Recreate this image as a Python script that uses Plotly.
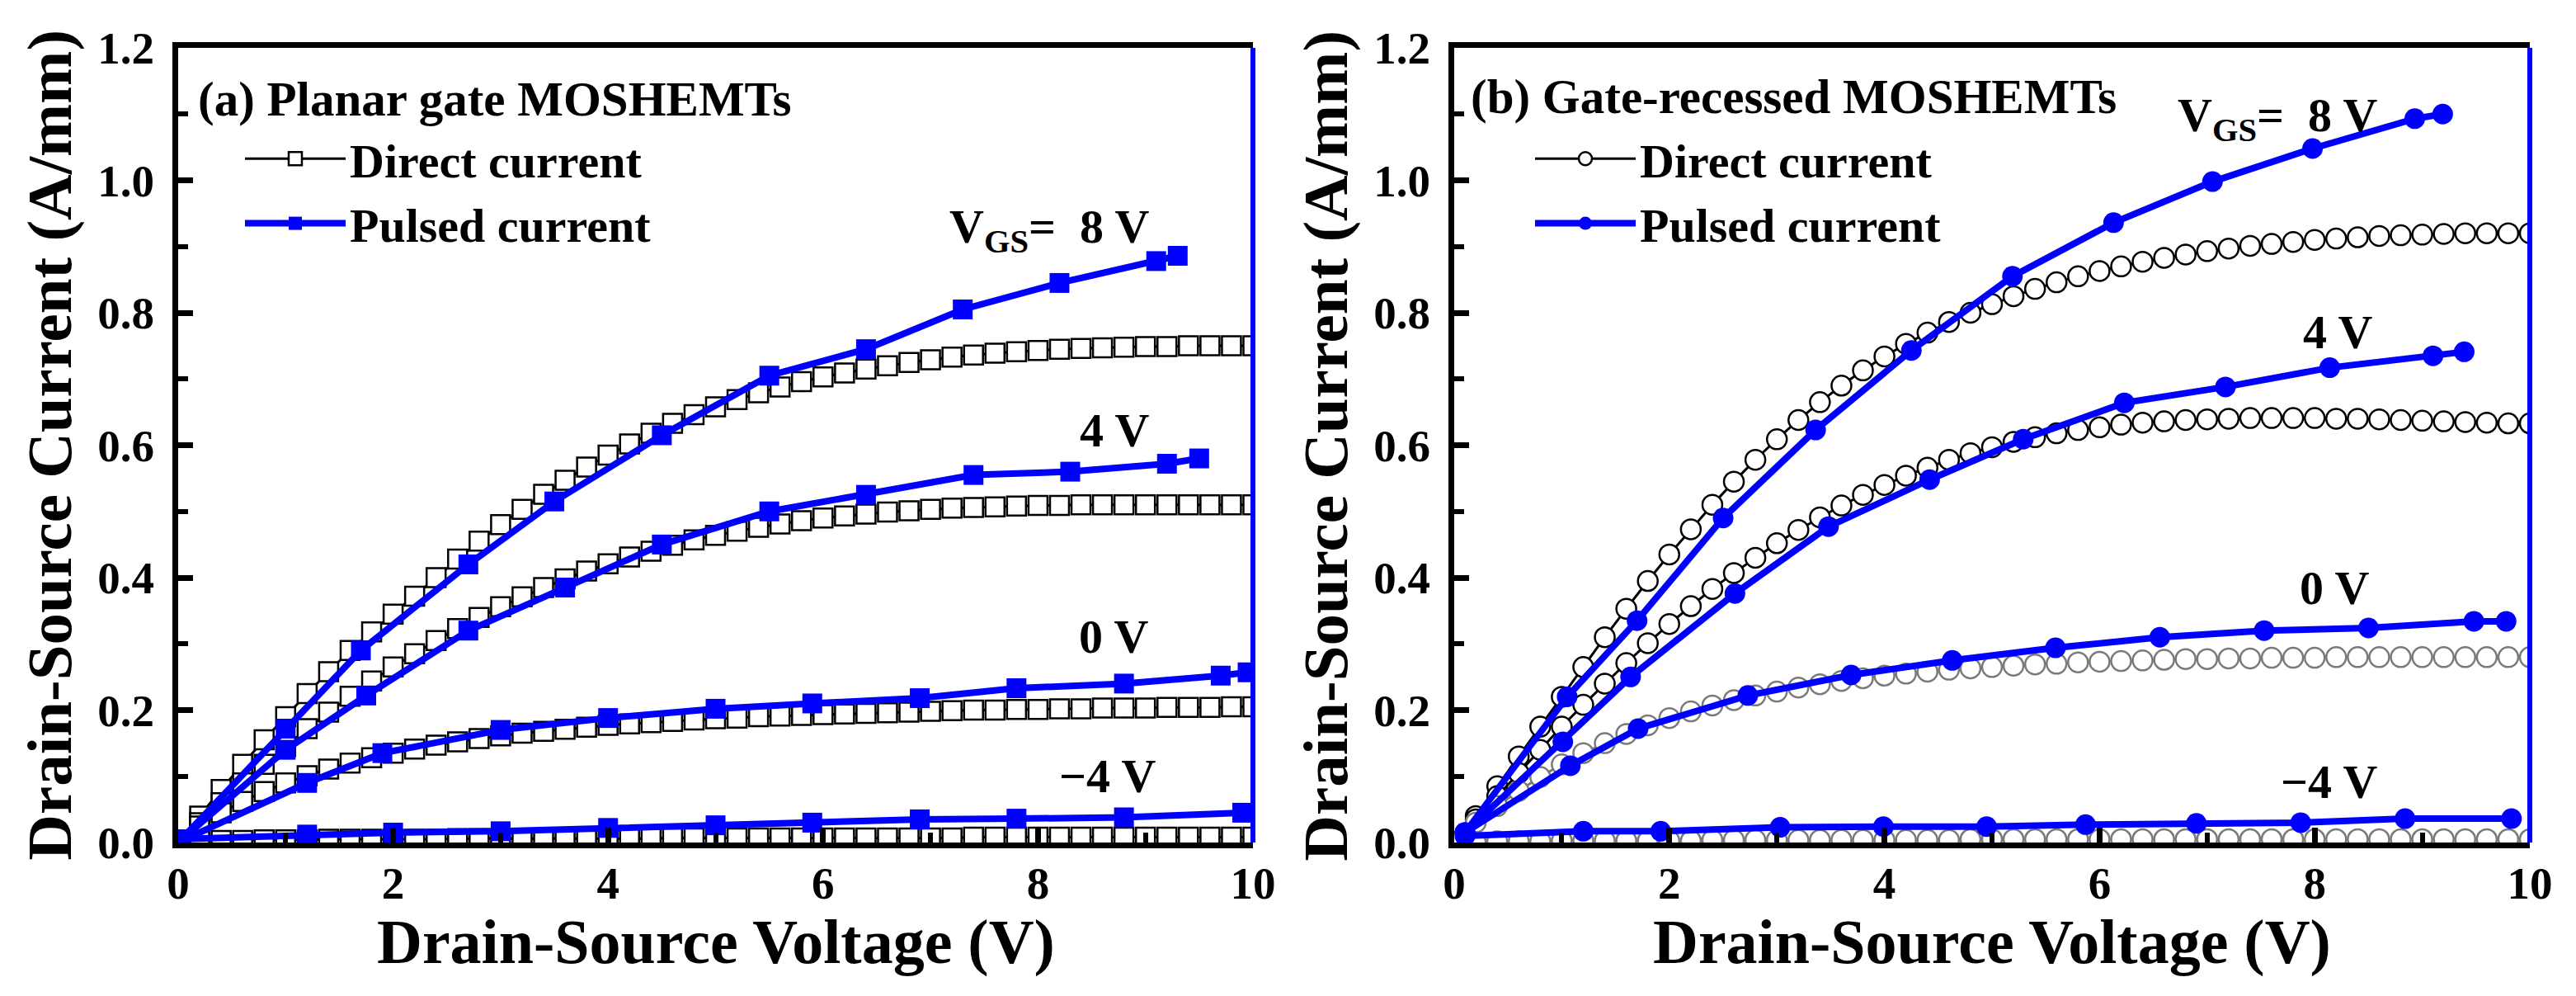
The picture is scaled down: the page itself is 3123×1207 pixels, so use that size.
import plotly.graph_objects as go

FONT = "Liberation Serif"

# ---------------- data ----------------
vds_dc = [round(0.2 * i, 1) for i in range(51)]  # 0.0 ... 10.0 V, 0.2 V step

# (a) Planar gate - direct current
a_dc_8 = [0.000, 0.040, 0.080, 0.118, 0.155, 0.190, 0.225, 0.258, 0.290, 0.318,
          0.345, 0.372, 0.400, 0.428, 0.455, 0.480, 0.503, 0.526, 0.547, 0.567,
          0.585, 0.602, 0.618, 0.633, 0.646, 0.658, 0.669, 0.679, 0.688, 0.696,
          0.703, 0.709, 0.715, 0.720, 0.725, 0.729, 0.733, 0.736, 0.739, 0.741,
          0.743, 0.745, 0.746, 0.747, 0.748, 0.749, 0.749, 0.750, 0.750, 0.750, 0.750]
a_dc_4 = [0.000, 0.030, 0.060, 0.090, 0.118, 0.145, 0.172, 0.197, 0.221, 0.244,
          0.265, 0.285, 0.305, 0.323, 0.340, 0.356, 0.371, 0.385, 0.398, 0.410,
          0.421, 0.431, 0.440, 0.449, 0.457, 0.464, 0.470, 0.476, 0.481, 0.486,
          0.490, 0.493, 0.496, 0.499, 0.501, 0.503, 0.505, 0.506, 0.507, 0.508,
          0.509, 0.509, 0.510, 0.510, 0.510, 0.510, 0.510, 0.510, 0.510, 0.510, 0.510]
a_dc_0 = [0.000, 0.025, 0.045, 0.062, 0.077, 0.090, 0.101, 0.111, 0.120, 0.128,
          0.135, 0.141, 0.147, 0.152, 0.157, 0.161, 0.165, 0.168, 0.171, 0.174,
          0.177, 0.179, 0.181, 0.183, 0.185, 0.187, 0.188, 0.190, 0.191, 0.192,
          0.193, 0.194, 0.195, 0.196, 0.197, 0.198, 0.199, 0.200, 0.200, 0.201,
          0.201, 0.202, 0.202, 0.203, 0.203, 0.203, 0.204, 0.204, 0.204, 0.205, 0.205]
a_dc_m4 = [0.000, 0.002, 0.003, 0.003, 0.004, 0.004, 0.004, 0.005, 0.005, 0.005,
           0.005, 0.005, 0.005, 0.006, 0.006, 0.006, 0.006, 0.006, 0.006, 0.006,
           0.006, 0.006, 0.006, 0.007, 0.007, 0.007, 0.007, 0.007, 0.007, 0.007,
           0.007, 0.007, 0.007, 0.007, 0.007, 0.007, 0.007, 0.008, 0.008, 0.008,
           0.008, 0.008, 0.008, 0.008, 0.008, 0.008, 0.008, 0.008, 0.008, 0.008, 0.008]

# (a) Planar gate - pulsed current
a_p8_v = [0.0, 1.0, 1.7, 2.7, 3.5, 4.5, 5.5, 6.4, 7.3, 8.2, 9.1, 9.3]
a_p8_i = [0.0, 0.172, 0.290, 0.420, 0.515, 0.615, 0.705, 0.745, 0.805, 0.845, 0.878, 0.886]
a_p4_v = [0.0, 1.0, 1.75, 2.7, 3.6, 4.5, 5.5, 6.4, 7.4, 8.3, 9.2, 9.5]
a_p4_i = [0.0, 0.140, 0.222, 0.320, 0.385, 0.450, 0.500, 0.525, 0.555, 0.560, 0.572, 0.580]
a_p0_v = [0.0, 1.2, 1.9, 3.0, 4.0, 5.0, 5.9, 6.9, 7.8, 8.8, 9.7, 9.95]
a_p0_i = [0.0, 0.090, 0.135, 0.170, 0.188, 0.202, 0.210, 0.218, 0.233, 0.240, 0.252, 0.257]
a_pm4_v = [0.0, 1.2, 2.0, 3.0, 4.0, 5.0, 5.9, 6.9, 7.8, 8.8, 9.9]
a_pm4_i = [0.005, 0.012, 0.015, 0.017, 0.022, 0.026, 0.030, 0.035, 0.036, 0.038, 0.045]

# (b) Gate-recessed - direct current
b_dc_8 = [0.000, 0.040, 0.085, 0.130, 0.175, 0.220, 0.265, 0.310, 0.353, 0.395,
          0.435, 0.473, 0.510, 0.545, 0.578, 0.609, 0.638, 0.665, 0.690, 0.713,
          0.734, 0.753, 0.770, 0.786, 0.800, 0.813, 0.825, 0.836, 0.846, 0.855,
          0.863, 0.870, 0.877, 0.883, 0.888, 0.893, 0.897, 0.901, 0.904, 0.907,
          0.910, 0.912, 0.914, 0.916, 0.917, 0.918, 0.919, 0.920, 0.920, 0.920, 0.920]
b_dc_4 = [0.000, 0.035, 0.070, 0.105, 0.140, 0.175, 0.208, 0.240, 0.271, 0.301,
          0.330, 0.357, 0.383, 0.407, 0.430, 0.452, 0.472, 0.491, 0.509, 0.525,
          0.540, 0.554, 0.566, 0.578, 0.588, 0.597, 0.605, 0.612, 0.618, 0.623,
          0.627, 0.631, 0.634, 0.636, 0.638, 0.639, 0.640, 0.641, 0.641, 0.641,
          0.641, 0.640, 0.640, 0.639, 0.638, 0.637, 0.636, 0.635, 0.634, 0.633, 0.633]
b_dc_0 = [0.000, 0.030, 0.055, 0.078, 0.099, 0.118, 0.135, 0.150, 0.164, 0.177,
          0.188, 0.198, 0.207, 0.215, 0.222, 0.228, 0.234, 0.239, 0.244, 0.248,
          0.252, 0.255, 0.258, 0.261, 0.263, 0.265, 0.267, 0.269, 0.270, 0.272,
          0.273, 0.274, 0.275, 0.276, 0.277, 0.277, 0.278, 0.278, 0.279, 0.279,
          0.279, 0.280, 0.280, 0.280, 0.280, 0.280, 0.280, 0.280, 0.280, 0.280, 0.280]
b_dc_m4 = [0.000, 0.001, 0.002, 0.002, 0.002, 0.003, 0.003, 0.003, 0.003, 0.003,
           0.003, 0.003, 0.004, 0.004, 0.004, 0.004, 0.004, 0.004, 0.004, 0.004,
           0.004, 0.004, 0.004, 0.004, 0.005, 0.005, 0.005, 0.005, 0.005, 0.005,
           0.005, 0.005, 0.005, 0.005, 0.005, 0.005, 0.005, 0.005, 0.005, 0.005,
           0.005, 0.005, 0.005, 0.005, 0.005, 0.005, 0.005, 0.005, 0.005, 0.005, 0.005]

# (b) Gate-recessed - pulsed current
b_p8_v = [0.1, 1.05, 1.7, 2.5, 3.36, 4.25, 5.19, 6.13, 7.05, 7.98, 8.93, 9.19]
b_p8_i = [0.015, 0.220, 0.335, 0.490, 0.623, 0.743, 0.855, 0.936, 0.998, 1.048, 1.093, 1.100]
b_p4_v = [0.1, 1.01, 1.64, 2.61, 3.48, 4.42, 5.29, 6.23, 7.17, 8.14, 9.1, 9.39]
b_p4_i = [0.015, 0.152, 0.250, 0.376, 0.477, 0.548, 0.609, 0.664, 0.688, 0.717, 0.735, 0.741]
b_p0_v = [0.1, 1.08, 1.71, 2.73, 3.69, 4.63, 5.59, 6.56, 7.53, 8.5, 9.48, 9.78]
b_p0_i = [0.015, 0.116, 0.172, 0.222, 0.253, 0.275, 0.294, 0.310, 0.320, 0.324, 0.334, 0.334]
b_pm4_v = [0.1, 1.2, 1.92, 3.03, 3.99, 4.95, 5.87, 6.9, 7.87, 8.84, 9.83]
b_pm4_i = [0.010, 0.017, 0.017, 0.023, 0.024, 0.024, 0.027, 0.029, 0.030, 0.036, 0.036]

x_ticks = [0, 2, 4, 6, 8, 10]
y_ticks = [0.0, 0.2, 0.4, 0.6, 0.8, 1.0, 1.2]
y_tick_text = ["0.0", "0.2", "0.4", "0.6", "0.8", "1.0", "1.2"]

BLUE = "#0000ff"
GRAY = "#7a7a7a"

fig = go.Figure()

def dc_trace(y, symbol, color, xa, ya, size, name=None, legend="legend", show=False):
    return go.Scatter(
        x=vds_dc, y=y, mode="lines+markers", xaxis=xa, yaxis=ya,
        line=dict(color=color, width=3),
        marker=dict(symbol=symbol, size=size, color="white", line=dict(color=color, width=2.5)),
        name=name, showlegend=show, legend=legend, legendgroup="dc")

def p_trace(x, y, symbol, xa, ya, size, name=None, legend="legend", show=False):
    return go.Scatter(
        x=x, y=y, mode="lines+markers", xaxis=xa, yaxis=ya,
        line=dict(color=BLUE, width=8),
        marker=dict(symbol=symbol, size=size, color=BLUE, line=dict(width=0)),
        name=name, showlegend=show, legend=legend, legendgroup="pulsed")

# panel (a)
fig.add_trace(dc_trace(a_dc_8, "square", "black", "x", "y", 23, "Direct current", "legend", True))
fig.add_trace(dc_trace(a_dc_4, "square", "black", "x", "y", 23))
fig.add_trace(dc_trace(a_dc_0, "square", "black", "x", "y", 23))
fig.add_trace(dc_trace(a_dc_m4, "square", "black", "x", "y", 23))
fig.add_trace(p_trace(a_p8_v, a_p8_i, "square", "x", "y", 24, "Pulsed current", "legend", True))
fig.add_trace(p_trace(a_p4_v, a_p4_i, "square", "x", "y", 24))
fig.add_trace(p_trace(a_p0_v, a_p0_i, "square", "x", "y", 24))
fig.add_trace(p_trace(a_pm4_v, a_pm4_i, "square", "x", "y", 24))

# panel (b)
fig.add_trace(dc_trace(b_dc_8, "circle", "black", "x2", "y2", 24, "Direct current", "legend2", True))
fig.add_trace(dc_trace(b_dc_4, "circle", "black", "x2", "y2", 24))
fig.add_trace(dc_trace(b_dc_0, "circle", GRAY, "x2", "y2", 24))
fig.add_trace(dc_trace(b_dc_m4, "circle", GRAY, "x2", "y2", 24))
fig.add_trace(p_trace(b_p8_v, b_p8_i, "circle", "x2", "y2", 25, "Pulsed current", "legend2", True))
fig.add_trace(p_trace(b_p4_v, b_p4_i, "circle", "x2", "y2", 25))
fig.add_trace(p_trace(b_p0_v, b_p0_i, "circle", "x2", "y2", 25))
fig.add_trace(p_trace(b_pm4_v, b_pm4_i, "circle", "x2", "y2", 25))

# page coordinates (the html body adds an 8 px offset)
OFF = 8
W, H = 3123 - 2 * OFF, 1207 - 2 * OFF

def px(s):
    return (s - OFF) / W

def py(s):
    return 1 - (s - OFF) / H

TOP, BOT = 58, 1021
L1, R1 = 216, 1519
L2, R2 = 1763, 3067
ydom = [py(BOT), py(TOP)]
xdom1 = [px(L1), px(R1)]
xdom2 = [px(L2), px(R2)]

tickfont = dict(family=FONT, size=55, color="black", weight="bold")

def xaxis(dom, anchor):
    return dict(domain=dom, anchor=anchor, range=[0, 10], tickvals=x_ticks,
                ticks="inside", ticklen=18, tickwidth=7, tickcolor="black",
                minor=dict(dtick=1, ticks="inside", ticklen=12, tickwidth=6, tickcolor="black"),
                showline=True, linewidth=7, linecolor="black", mirror=True,
                showgrid=False, zeroline=False, tickfont=tickfont,
                ticklabelstandoff=-5, automargin=False)

def yaxis(dom, anchor):
    return dict(domain=dom, anchor=anchor, range=[0, 1.2], tickvals=y_ticks, ticktext=y_tick_text,
                ticks="inside", ticklen=18, tickwidth=7, tickcolor="black",
                minor=dict(dtick=0.1, ticks="inside", ticklen=12, tickwidth=6, tickcolor="black"),
                showline=True, linewidth=7, linecolor="black", mirror=False,
                showgrid=False, zeroline=False, tickfont=tickfont,
                ticklabelstandoff=11, automargin=False)

legend_font = dict(family=FONT, size=58, color="black", weight="bold")

fig.update_layout(
    width=W, height=H, margin=dict(l=0, r=0, t=0, b=0, autoexpand=False),
    paper_bgcolor="white", plot_bgcolor="white",
    xaxis=xaxis(xdom1, "y"), yaxis=yaxis(ydom, "x"),
    xaxis2=xaxis(xdom2, "y2"), yaxis2=yaxis(ydom, "x2"),
    legend=dict(x=px(292), y=py(148), xanchor="left", yanchor="top",
                font=legend_font, bgcolor="rgba(0,0,0,0)", itemwidth=122,
                tracegroupgap=0, traceorder="grouped"),
    legend2=dict(x=px(1856), y=py(148), xanchor="left", yanchor="top",
                 font=legend_font, bgcolor="rgba(0,0,0,0)", itemwidth=122,
                 tracegroupgap=0, traceorder="grouped"),
    showlegend=True,
)

# blue right spines
for xr, yr in (("x domain", "y domain"), ("x2 domain", "y2 domain")):
    fig.add_shape(type="line", xref=xr, yref=yr, x0=1, x1=1, y0=0, y1=1,
                  line=dict(color=BLUE, width=6), layer="above")

ann_font = dict(family=FONT, size=58, color="black", weight="bold")
title_font = dict(family=FONT, size=59, color="black", weight="bold")
axis_title_font_y = dict(family=FONT, size=77, color="black", weight="bold")
axis_title_font_x = dict(family=FONT, size=76, color="black", weight="bold")

ymid = py((TOP + BOT) / 2)
annotations = [
    # axis titles
    dict(x=px(L1 - 156), y=ymid, xref="paper", yref="paper", text="Drain-Source Current (A/mm)",
         textangle=-90, font=axis_title_font_y),
    dict(x=px(L2 - 156), y=ymid, xref="paper", yref="paper", text="Drain-Source Current (A/mm)",
         textangle=-90, font=axis_title_font_y),
    dict(x=px((L1 + R1) / 2), y=py(1141), xref="paper", yref="paper",
         text="Drain-Source Voltage (V)", font=axis_title_font_x),
    dict(x=px((L2 + R2) / 2), y=py(1141), xref="paper", yref="paper",
         text="Drain-Source Voltage (V)", font=axis_title_font_x),
    # panel titles
    dict(x=0.17, y=1.123, xref="x", yref="y", text="(a) Planar gate MOSHEMTs", font=title_font, xanchor="left"),
    dict(x=0.14, y=1.126, xref="x2", yref="y2", text="(b) Gate-recessed MOSHEMTs", font=title_font, xanchor="left"),
    # gate-voltage labels
    dict(x=8.11, y=0.925, xref="x", yref="y", text="V<sub>GS</sub>=  8 V", font=ann_font),
    dict(x=8.71, y=0.623, xref="x", yref="y", text="4 V", font=ann_font),
    dict(x=8.70, y=0.311, xref="x", yref="y", text="0 V", font=ann_font),
    dict(x=8.65, y=0.100, xref="x", yref="y", text="\u22124 V", font=ann_font),
    dict(x=7.66, y=1.094, xref="x2", yref="y2", text="V<sub>GS</sub>=  8 V", font=ann_font),
    dict(x=8.21, y=0.771, xref="x2", yref="y2", text="4 V", font=ann_font),
    dict(x=8.18, y=0.384, xref="x2", yref="y2", text="0 V", font=ann_font),
    dict(x=8.14, y=0.091, xref="x2", yref="y2", text="\u22124 V", font=ann_font),
]
for a in annotations:
    a.setdefault("xanchor", "center")
    a["yanchor"] = "middle"
    a["showarrow"] = False
    fig.add_annotation(**a)

fig.write_html("out.html")
